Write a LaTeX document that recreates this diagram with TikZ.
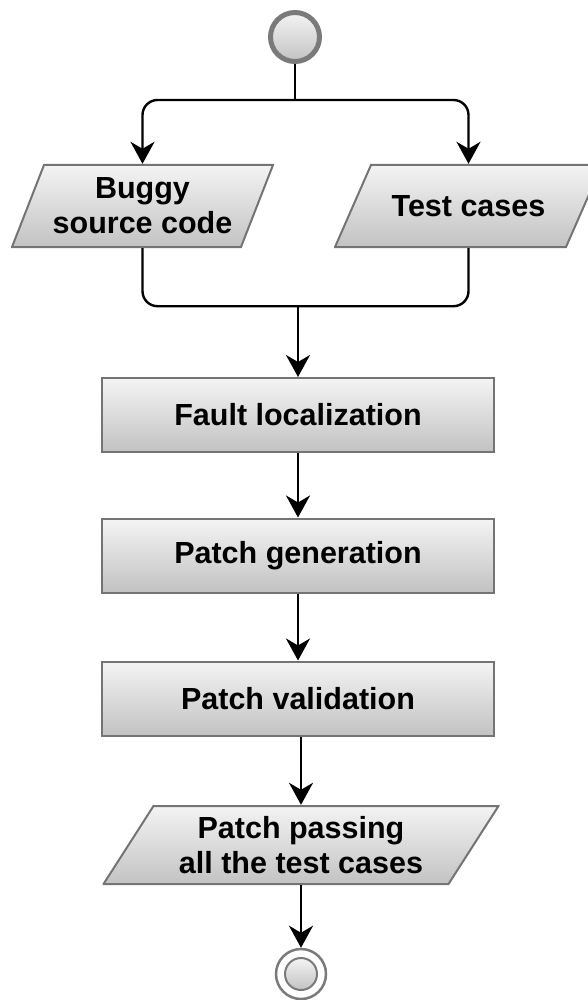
\documentclass[tikz,border=0pt]{standalone}
\usepackage{fontspec}
\setmainfont{Liberation Sans}
\usetikzlibrary{arrows.meta,calc}
\definecolor{boxedge}{HTML}{747474}
\definecolor{fillhi}{HTML}{F4F4F4}
\definecolor{filllo}{HTML}{C2C2C2}
\definecolor{ringgray}{HTML}{7A7A7A}
\tikzset{
  lbl/.style={font=\fontsize{30.5}{35}\selectfont\bfseries, align=center, text=black},
  shadefill/.style={top color=fillhi, bottom color=filllo},
  procbox/.style={lbl, rectangle, draw=boxedge, line width=2pt, shadefill,
    minimum width=392pt, minimum height=74pt, inner sep=0pt},
  % slanted input/output box; #1 is the horizontal offset of the top edge
  iobox/.style={lbl, rectangle, inner sep=0pt,
    path picture={
      \path[draw=boxedge, line width=2pt, shadefill]
        ([xshift=#1+1pt,yshift=-1pt]path picture bounding box.north west)
        -- ([xshift=-1pt,yshift=-1pt]path picture bounding box.north east)
        -- ([xshift=-#1-1pt,yshift=1pt]path picture bounding box.south east)
        -- ([xshift=1pt,yshift=1pt]path picture bounding box.south west)
        -- cycle;
    }},
  flow/.style={line width=2.4pt, -{Stealth[length=22pt,width=24pt,inset=7pt]}},
  wire/.style={line width=2.4pt},
}
\begin{document}
\begin{tikzpicture}[x=1pt,y=-1pt]
\useasboundingbox (0,0) rectangle (588,1000);

% initial node
\node[circle, draw=ringgray, line width=5pt, shadefill, minimum size=49pt, inner sep=0pt] (start) at (295,37) {};

% inputs
\node[iobox=32pt, minimum width=263pt, minimum height=84pt] (bug) at (142.5,206) {Buggy\\source code};
\node[iobox=36pt, minimum width=269pt, minimum height=84pt] (test) at (468.5,206) {Test cases};

% repair steps
\node[procbox] (fault) at (298,415) {Fault localization};
\node[procbox] (gen) at (298,555.5) {Patch generation};
\node[procbox] (val) at (298,698.5) {Patch validation};

% output
\node[iobox=50pt, minimum width=397pt, minimum height=80pt] (pass) at (301,845) {Patch passing\\all the test cases};

% final node
\node[circle, draw=ringgray, line width=2.5pt, fill=white, minimum size=50pt, inner sep=0pt] (stop) at (301,974) {};
\node[circle, draw=ringgray, line width=2pt, shadefill, minimum size=32pt, inner sep=0pt] (stopin) at (stop.center) {};

% connectors
\coordinate (split) at (295,100);
\coordinate (join) at (298,305);
\draw[wire] (start) -- (split);
\draw[flow, rounded corners=15pt] (split) -| (bug.north);
\draw[flow, rounded corners=15pt] (split) -| (test.north);
\draw[wire, rounded corners=15pt] (bug.south) -- ++(0,58) -| (test.south);
\draw[flow] (join) -- (fault.north);
\draw[flow] (fault) -- (gen);
\draw[flow] (gen) -- (val);
\draw[flow] (val.south -| pass.north) -- (pass.north);
\draw[flow] (pass) -- (stop);
\end{tikzpicture}
\end{document}
